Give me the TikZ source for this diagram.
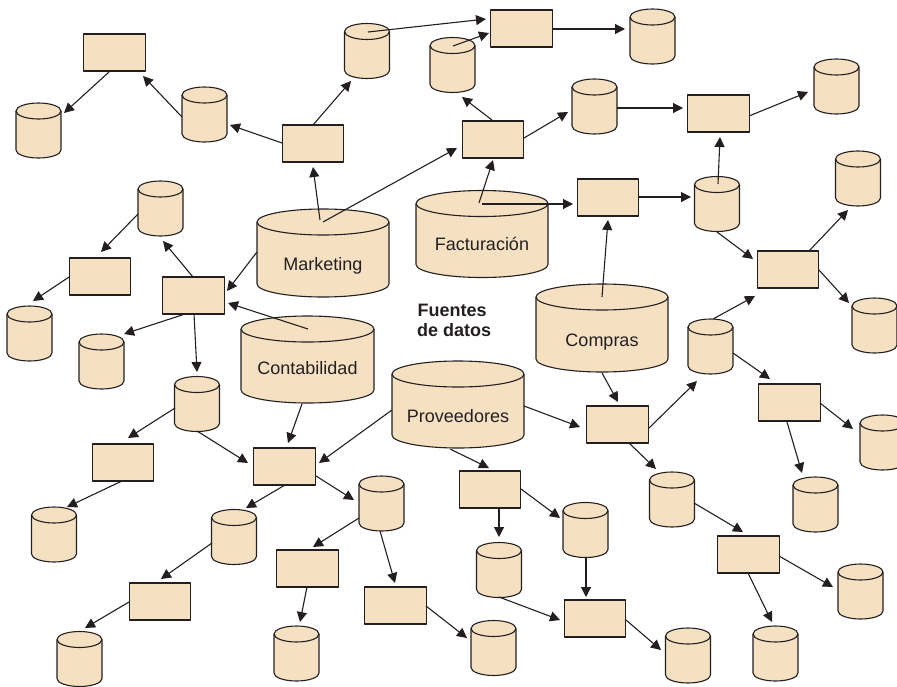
\documentclass[tikz,border=0pt]{standalone}
\usepackage{fontspec}
\setmainfont{Liberation Sans}
\usetikzlibrary{arrows.meta}
\definecolor{beige}{RGB}{245,225,194}
\definecolor{ink}{RGB}{35,31,32}
\tikzset{
  shapeline/.style={draw=ink, line width=1.1pt, line join=round},
  procbox/.style={rectangle, shapeline, fill=beige, minimum width=61.5pt, minimum height=37pt, inner sep=0pt},
  cylbox/.style 2 args={rectangle, draw=none, fill=none, inner sep=0pt, outer sep=0pt, minimum width=#1pt, minimum height=#2pt},
  arr/.style={draw=ink, line width=1.1pt, -{Triangle[length=10pt,width=10pt]}},
  dblabel/.style={font=\fontsize{18}{21}\selectfont, text=ink, anchor=base, inner sep=0pt},
  titlelabel/.style={font=\fontsize{18}{21}\selectfont\bfseries, text=ink, anchor=base west, inner sep=0pt},
}
% name, cx, cy, width, height, ellipse half-height
\newcommand\dbcyl[6]{%
  \node[cylbox={#4}{#5}] (#1) at (#2,#3) {};
  \filldraw[shapeline, fill=beige] ([yshift=-#6pt]#1.north west) -- ([yshift=#6pt]#1.south west)
     arc[start angle=180, end angle=360, x radius=#4pt/2, y radius=#6pt]
     -- ([yshift=-#6pt]#1.north east)
     arc[start angle=0, end angle=180, x radius=#4pt/2, y radius=#6pt] -- cycle;
  \draw[shapeline] ([yshift=-#6pt]#1.north west) arc[start angle=180, end angle=360, x radius=#4pt/2, y radius=#6pt];
}
\begin{document}
\begin{tikzpicture}[x=1pt,y=-1pt]
\clip (0,0) rectangle (897,686);
% process boxes
\node[procbox] (r1) at (114.5,52.5) {};
\node[procbox] (r2) at (313,143.5) {};
\node[procbox] (r3) at (521.5,28.5) {};
\node[procbox] (r4) at (493,139.5) {};
\node[procbox] (r5) at (718.5,113.5) {};
\node[procbox] (r6) at (608,197.5) {};
\node[procbox] (r7) at (788,269.5) {};
\node[procbox] (r8) at (789.5,402.5) {};
\node[procbox] (r9) at (617.5,424.5) {};
\node[procbox] (r10) at (100,276.5) {};
\node[procbox] (r11) at (193.5,295.5) {};
\node[procbox] (r12) at (123,462.5) {};
\node[procbox] (r13) at (284.5,466.5) {};
\node[procbox] (r14) at (160,601.5) {};
\node[procbox] (r15) at (307.5,568.5) {};
\node[procbox] (r16) at (395.5,605.5) {};
\node[procbox] (r17) at (490,489.5) {};
\node[procbox] (r18) at (595,618.5) {};
\node[procbox] (r19) at (748.5,554.5) {};
% small stores
\dbcyl{c1}{38.5}{130.5}{45}{55}{8}
\dbcyl{c2}{204.5}{114.5}{45}{55}{8}
\dbcyl{c3}{367}{51}{45}{55}{8}
\dbcyl{c4}{452.5}{65}{45}{55}{8}
\dbcyl{c5}{652.5}{36.5}{45}{55}{8}
\dbcyl{c6}{594.5}{106.5}{45}{55}{8}
\dbcyl{c7}{836.5}{86.5}{45}{55}{8}
\dbcyl{c8}{858}{178.5}{45}{55}{8}
\dbcyl{c9}{717}{204}{45}{55}{8}
\dbcyl{c10}{160.5}{208.5}{45}{55}{8}
\dbcyl{c11}{874.5}{325.5}{45}{55}{8}
\dbcyl{c12}{710.5}{346.5}{45}{55}{8}
\dbcyl{c13}{29.5}{333.5}{45}{55}{8}
\dbcyl{c14}{101.5}{361.5}{45}{55}{8}
\dbcyl{c15}{197}{404}{45}{55}{8}
\dbcyl{c16}{54}{534.5}{45}{55}{8}
\dbcyl{c17}{234}{537}{45}{55}{8}
\dbcyl{c18}{381.5}{503.5}{45}{55}{8}
\dbcyl{c19}{79.5}{659}{45}{55}{8}
\dbcyl{c20}{296.5}{653.5}{45}{55}{8}
\dbcyl{c21}{585.5}{530}{45}{55}{8}
\dbcyl{c22}{499}{570}{45}{55}{8}
\dbcyl{c23}{493.5}{648}{45}{55}{8}
\dbcyl{c24}{688}{655.5}{45}{55}{8}
\dbcyl{c25}{672}{499.5}{45}{55}{8}
\dbcyl{c26}{775.5}{653.5}{45}{55}{8}
\dbcyl{c27}{860.5}{591.5}{45}{55}{8}
\dbcyl{c28}{815.5}{504.5}{45}{55}{8}
\dbcyl{c29}{882.5}{442.5}{45}{55}{8}
% source databases
\dbcyl{mkt}{323}{253}{132}{88}{13}
\dbcyl{fac}{482}{234}{132}{87}{13}
\dbcyl{con}{307.5}{359.5}{133}{87}{13}
\dbcyl{com}{602}{328}{132}{88}{13}
\dbcyl{pro}{458}{404.5}{132}{87}{13}
\node[dblabel] (mktl) at ([yshift=-17pt]mkt.center) {Marketing};
\node[dblabel] (facl) at ([yshift=-16pt]fac.center) {Facturación};
\node[dblabel] (conl) at ([yshift=-14.5pt]con.center) {Contabilidad};
\node[dblabel] (coml) at ([yshift=-18pt]com.center) {Compras};
\node[dblabel] (prol) at ([yshift=-17.5pt]pro.center) {Proveedores};
\node[titlelabel] (fuentes) at (417.5,316) {Fuentes};
\node[titlelabel] (datos) at (417,336) {de datos};
% connectors
\draw[arr] ([shift={(-5.5,19.5)}]r1.center) -- ([shift={(25.5,-17.5)}]c1.center);
\draw[arr] ([shift={(-22.5,2.5)}]c2.center) -- ([shift={(28.5,23.5)}]r1.center);
\draw[arr] ([shift={(-31,-0.5)}]r2.center) -- ([shift={(25.5,10.5)}]c2.center);
\draw[arr] ([shift={(0,-18.5)}]r2.center) -- ([shift={(-16,30)}]c3.center);
\draw[arr] ([shift={(-3,-33)}]mkt.center) -- ([shift={(0,23.5)}]r2.center);
\draw[arr] ([shift={(0,-31)}]mkt.center) -- ([shift={(-36,8.5)}]r4.center);
\draw[arr] ([shift={(1,-19)}]c3.center) -- ([shift={(-35.5,-9.5)}]r3.center);
\draw[arr] ([shift={(0.5,-19)}]c4.center) -- ([shift={(-32.5,4.5)}]r3.center);
\draw[arr] ([shift={(30.5,0.5)}]r3.center) -- ([shift={(-27.5,-7.5)}]c5.center);
\draw[arr] ([shift={(-1,-19.5)}]r4.center) -- ([shift={(9.5,32)}]c4.center);
\draw[arr] ([shift={(31,-1.5)}]r4.center) -- ([shift={(-26.5,5.5)}]c6.center);
\draw[arr] ([shift={(22.5,1.5)}]c6.center) -- ([shift={(-35.5,-5.5)}]r5.center);
\draw[arr] ([shift={(30.5,2.5)}]r5.center) -- ([shift={(-28.5,5.5)}]c7.center);
\draw[arr] ([shift={(1,-20)}]c9.center) -- ([shift={(1.5,23.5)}]r5.center);
\draw[arr] ([shift={(-3,-31)}]fac.center) -- ([shift={(0,20.5)}]r4.center);
\draw[arr] ([shift={(0,-30)}]fac.center) -- ([shift={(-35,6.5)}]r6.center);
\draw[arr] ([shift={(31,-0.5)}]r6.center) -- ([shift={(-26,-7)}]c9.center);
\draw[arr] ([shift={(21,-18.5)}]r7.center) -- ([shift={(-10,31.5)}]c8.center);
\draw[arr] ([shift={(0,28)}]c9.center) -- ([shift={(-35,-10.5)}]r7.center);
\draw[arr] ([shift={(31,0.5)}]r7.center) -- ([shift={(-25.5,-22.5)}]c11.center);
\draw[arr] ([shift={(0,-31)}]com.center) -- ([shift={(0,22.5)}]r6.center);
\draw[arr] ([shift={(0,45)}]com.center) -- ([shift={(0.5,-22.5)}]r9.center);
\draw[arr] ([shift={(31.5,3.5)}]r9.center) -- ([shift={(-13.5,34.5)}]c12.center);
\draw[arr] ([shift={(2.5,-27.5)}]c12.center) -- ([shift={(-33,26.5)}]r7.center);
\draw[arr] ([shift={(22.5,6.5)}]c12.center) -- ([shift={(-19.5,-23.5)}]r8.center);
\draw[arr] ([shift={(30.5,0.5)}]r8.center) -- ([shift={(-29.5,-13.5)}]c29.center);
\draw[arr] ([shift={(66,1.5)}]pro.center) -- ([shift={(-37.5,2.5)}]r9.center);
\draw[arr] ([shift={(-2.5,19.5)}]r8.center) -- ([shift={(-13.5,-31.5)}]c28.center);
\draw[arr] ([shift={(11.5,18.5)}]r9.center) -- ([shift={(-16,-30.5)}]c25.center);
\draw[arr] ([shift={(22,3.5)}]c25.center) -- ([shift={(-5.5,-22.5)}]r19.center);
\draw[arr] ([shift={(30.5,1.5)}]r19.center) -- ([shift={(-27.5,-4.5)}]c27.center);
\draw[arr] ([shift={(-0.5,18.5)}]r19.center) -- ([shift={(-3.5,-31.5)}]c26.center);
\draw[arr] ([shift={(-8,44.5)}]pro.center) -- ([shift={(-1,-21.5)}]r17.center);
\draw[arr] ([shift={(9,18.5)}]r17.center) -- ([shift={(0,-33)}]c22.center);
\draw[arr] ([shift={(31,-0.5)}]r17.center) -- ([shift={(-25.5,-12)}]c21.center);
\draw[arr] ([shift={(0.5,27)}]c21.center) -- ([shift={(-9,-21.5)}]r18.center);
\draw[arr] ([shift={(0,27)}]c22.center) -- ([shift={(-35,1.5)}]r18.center);
\draw[arr] ([shift={(31,1.5)}]r18.center) -- ([shift={(-27,-5.5)}]c24.center);
\draw[arr] ([shift={(30.5,0.5)}]r16.center) -- ([shift={(-26.5,-10)}]c23.center);
\draw[arr] ([shift={(-22.5,5.5)}]c10.center) -- ([shift={(1,-24.5)}]r10.center);
\draw[arr] ([shift={(-31,0.5)}]r10.center) -- ([shift={(3.5,-32.5)}]c13.center);
\draw[arr] ([shift={(-0.5,-18.5)}]r11.center) -- ([shift={(2.5,32.5)}]c10.center);
\draw[arr] ([shift={(-66,-1)}]mkt.center) -- ([shift={(33.5,-4.5)}]r11.center);
\draw[arr] ([shift={(0.5,-30.5)}]con.center) -- ([shift={(34.5,7.5)}]r11.center);
\draw[arr] ([shift={(-8.5,18.5)}]r11.center) -- ([shift={(22.5,-27.5)}]c14.center);
\draw[arr] ([shift={(0.5,18.5)}]r11.center) -- ([shift={(0,-32)}]c15.center);
\draw[arr] ([shift={(-22,4)}]c15.center) -- ([shift={(5,-24.5)}]r12.center);
\draw[arr] ([shift={(0,27)}]c15.center) -- ([shift={(-36.5,-3.5)}]r13.center);
\draw[arr] ([shift={(-5.5,44.5)}]con.center) -- ([shift={(3.5,-23.5)}]r13.center);
\draw[arr] ([shift={(-66,5.5)}]pro.center) -- ([shift={(34.5,-3.5)}]r13.center);
\draw[arr] ([shift={(-1,18.5)}]r12.center) -- ([shift={(13,-27.5)}]c16.center);
\draw[arr] ([shift={(0.5,18.5)}]r13.center) -- ([shift={(12,-29)}]c17.center);
\draw[arr] ([shift={(31.5,9.5)}]r13.center) -- ([shift={(-27.5,-3.5)}]c18.center);
\draw[arr] ([shift={(-22,6)}]c17.center) -- ([shift={(1,-22.5)}]r14.center);
\draw[arr] ([shift={(-31,0.5)}]r14.center) -- ([shift={(5.5,-31)}]c19.center);
\draw[arr] ([shift={(-22.5,14.5)}]c18.center) -- ([shift={(5.5,-21.5)}]r15.center);
\draw[arr] ([shift={(-1.5,27.5)}]c18.center) -- ([shift={(-0.5,-22.5)}]r16.center);
\draw[arr] ([shift={(-0.5,18.5)}]r15.center) -- ([shift={(3.5,-31.5)}]c20.center);
\end{tikzpicture}
\end{document}
